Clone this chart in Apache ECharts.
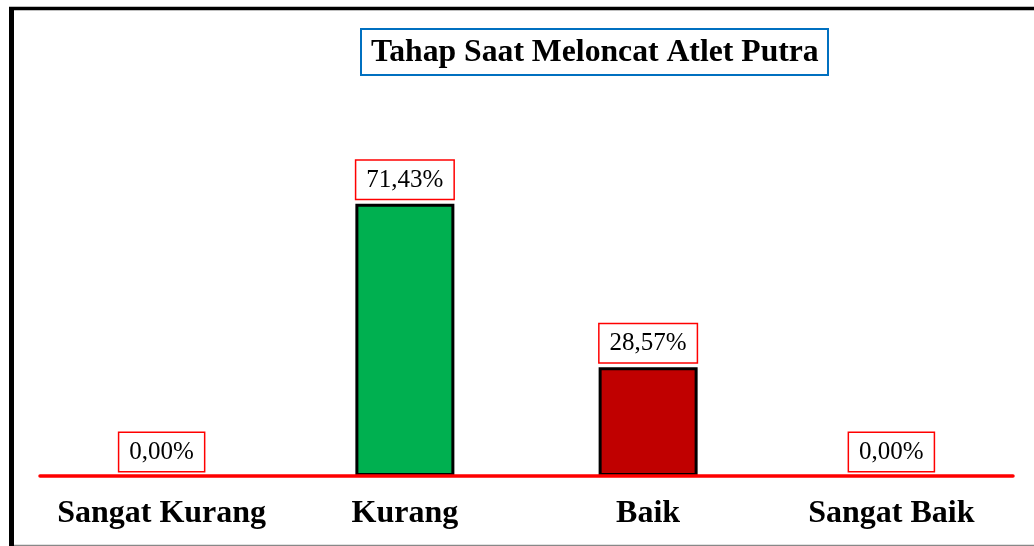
<!DOCTYPE html>
<html style="height: 100%">
<head>
    <title>Tahap Saat Meloncat Atlet Putra</title>
    <meta charset="utf-8">
</head>
<body style="height: 100%; margin: 0; background: #fff">
    <div id="container" style="width: 1034px; height: 546px"></div>
    <script type="text/javascript" src="https://cdn.jsdelivr.net/npm/echarts@6/dist/echarts.min.js"></script>
    <script type="text/javascript">
    // data
    var categories = ['Sangat Kurang', 'Kurang', 'Baik', 'Sangat Baik'];
    var values = [0, 71.43, 28.57, 0];
    var barColors = ['#00B050', '#00B050', '#C00000', '#C00000'];

    var serif = 'Liberation Serif';
    var dom = document.getElementById('container');
    var myChart = echarts.init(dom);

    var barData = values.map(function (v, i) {
        return {
            value: v,
            itemStyle: {
                color: barColors[i],
                borderColor: '#000',
                borderWidth: v > 0 ? 3 : 0
            }
        };
    });

    var option = {
        animation: false,
        backgroundColor: '#fff',
        title: {
            text: 'Tahap Saat Meloncat Atlet Putra',
            left: 361,
            top: 29,
            padding: [8, 10, 7, 10],
            borderColor: '#0070C0',
            borderWidth: 2,
            textStyle: {
                fontFamily: serif,
                fontWeight: 'bold',
                fontSize: 31.7,
                lineHeight: 31,
                color: '#000'
            }
        },
        grid: {
            left: 40,
            right: 21,
            top: 95,
            bottom: 70
        },
        xAxis: {
            type: 'category',
            data: categories,
            z: 5,
            axisLine: { lineStyle: { color: '#FF0000', width: 3.5 } },
            axisTick: { show: false },
            axisLabel: {
                interval: 0,
                margin: 22,
                fontFamily: serif,
                fontWeight: 'bold',
                fontSize: 32,
                color: '#000'
            }
        },
        yAxis: {
            type: 'value',
            min: 0,
            max: 100,
            show: false,
            splitLine: { show: false }
        },
        series: [{
            type: 'bar',
            data: barData,
            barWidth: 99,
            label: {
                show: true,
                position: 'top',
                distance: 5,
                formatter: function (p) {
                    return p.value.toFixed(2).replace('.', ',') + '%';
                },
                fontFamily: serif,
                fontSize: 25,
                color: '#000',
                backgroundColor: '#fff',
                borderColor: '#FF0000',
                borderWidth: 1.5,
                padding: [7, 10, 6, 10]
            }
        }],
        graphic: [
            // outer frame of the original picture
            { type: 'line', shape: { x1: 11.5, y1: 7, x2: 11.5, y2: 546 }, style: { stroke: '#000', lineWidth: 5 } },
            { type: 'line', shape: { x1: 9, y1: 8.5, x2: 1034, y2: 8.5 }, style: { stroke: '#000', lineWidth: 3.5 } },
            { type: 'line', shape: { x1: 14, y1: 545.5, x2: 1034, y2: 545.5 }, style: { stroke: '#888', lineWidth: 1.5 } }
        ]
    };

    myChart.setOption(option);
    </script>
</body>
</html>
